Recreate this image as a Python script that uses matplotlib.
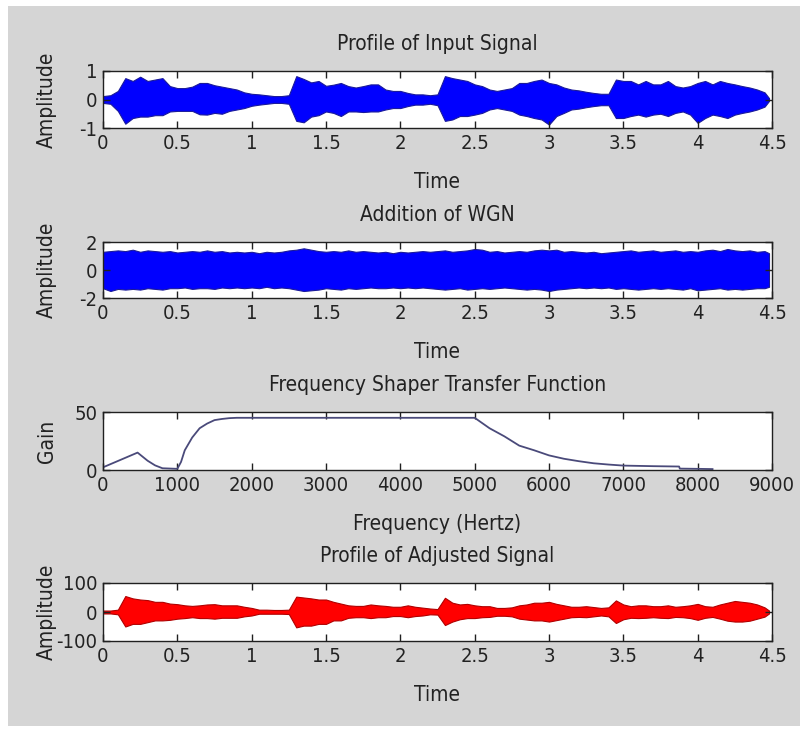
import numpy as np
import matplotlib
matplotlib.use("Agg")
import matplotlib.pyplot as plt
from matplotlib.patches import Rectangle
from matplotlib import font_manager as fm

plt.rcParams['axes.unicode_minus'] = False

# ---------------- data (envelopes, step 0.05 s) ----------------
time_step = 0.05
input_upper = [0.12, 0.15, 0.30, 0.75, 0.65, 0.80, 0.65, 0.70, 0.75, 0.47,
               0.40, 0.40, 0.45, 0.58, 0.58, 0.50, 0.45, 0.40, 0.35, 0.25,
               0.20, 0.18, 0.15, 0.12, 0.12, 0.15, 0.82, 0.72, 0.60, 0.65,
               0.48, 0.52, 0.58, 0.47, 0.42, 0.47, 0.53, 0.53, 0.35, 0.30,
               0.30, 0.23, 0.18, 0.18, 0.15, 0.18, 0.82, 0.75, 0.70, 0.65,
               0.53, 0.47, 0.35, 0.30, 0.35, 0.40, 0.58, 0.58, 0.65, 0.70,
               0.58, 0.53, 0.42, 0.35, 0.32, 0.27, 0.23, 0.20, 0.20, 0.70,
               0.65, 0.65, 0.53, 0.65, 0.53, 0.53, 0.65, 0.47, 0.42, 0.47,
               0.58, 0.65, 0.53, 0.65, 0.58, 0.53, 0.47, 0.42, 0.35, 0.25,
               0.05]
input_lower = [-0.12, -0.15, -0.40, -0.85, -0.65, -0.60, -0.60, -0.55, -0.55, -0.42,
               -0.40, -0.40, -0.40, -0.52, -0.53, -0.47, -0.50, -0.40, -0.35, -0.30,
               -0.22, -0.18, -0.15, -0.12, -0.12, -0.15, -0.75, -0.80, -0.60, -0.55,
               -0.42, -0.47, -0.58, -0.42, -0.42, -0.44, -0.42, -0.42, -0.35, -0.30,
               -0.30, -0.23, -0.18, -0.18, -0.15, -0.20, -0.75, -0.70, -0.58, -0.58,
               -0.53, -0.47, -0.35, -0.30, -0.35, -0.40, -0.53, -0.58, -0.65, -0.70,
               -0.88, -0.58, -0.47, -0.35, -0.32, -0.27, -0.23, -0.20, -0.20, -0.65,
               -0.65, -0.58, -0.53, -0.60, -0.53, -0.50, -0.58, -0.47, -0.42, -0.53,
               -0.82, -0.65, -0.53, -0.58, -0.65, -0.53, -0.47, -0.42, -0.35, -0.25,
               -0.05]

wgn_upper = [1.30, 1.35, 1.40, 1.35, 1.45, 1.30, 1.40, 1.35, 1.30, 1.35,
             1.25, 1.30, 1.35, 1.30, 1.40, 1.30, 1.35, 1.25, 1.30, 1.25,
             1.30, 1.20, 1.30, 1.25, 1.30, 1.40, 1.45, 1.55, 1.45, 1.35,
             1.30, 1.35, 1.30, 1.40, 1.30, 1.35, 1.30, 1.25, 1.30, 1.20,
             1.30, 1.25, 1.30, 1.35, 1.30, 1.35, 1.40, 1.30, 1.35, 1.40,
             1.50, 1.45, 1.30, 1.35, 1.25, 1.30, 1.35, 1.30, 1.40, 1.45,
             1.40, 1.45, 1.30, 1.35, 1.30, 1.25, 1.30, 1.20, 1.25, 1.30,
             1.35, 1.40, 1.30, 1.35, 1.40, 1.30, 1.35, 1.40, 1.30, 1.35,
             1.30, 1.40, 1.45, 1.35, 1.50, 1.40, 1.35, 1.40, 1.30, 1.35,
             1.20]
wgn_lower = [-1.30, -1.50, -1.35, -1.40, -1.35, -1.40, -1.30, -1.35, -1.40, -1.30,
             -1.30, -1.25, -1.35, -1.30, -1.30, -1.35, -1.25, -1.30, -1.25, -1.30,
             -1.25, -1.30, -1.20, -1.30, -1.25, -1.30, -1.40, -1.50, -1.45, -1.40,
             -1.30, -1.35, -1.40, -1.30, -1.35, -1.30, -1.25, -1.30, -1.30, -1.25,
             -1.30, -1.25, -1.30, -1.25, -1.30, -1.35, -1.40, -1.35, -1.30, -1.40,
             -1.35, -1.30, -1.35, -1.30, -1.25, -1.30, -1.35, -1.40, -1.35, -1.40,
             -1.50, -1.40, -1.35, -1.30, -1.25, -1.30, -1.25, -1.30, -1.25, -1.35,
             -1.30, -1.35, -1.40, -1.35, -1.30, -1.35, -1.30, -1.35, -1.40, -1.30,
             -1.45, -1.40, -1.35, -1.30, -1.40, -1.35, -1.40, -1.35, -1.30, -1.30,
             -1.20]

adjusted_upper = [5, 5, 8, 55, 47, 43, 41, 35, 35, 29,
                  27, 23, 21, 23, 26, 27, 23, 23, 23, 18,
                  14, 8, 8, 7, 7, 8, 53, 50, 47, 43,
                  43, 35, 29, 23, 21, 21, 26, 23, 21, 18,
                  18, 23, 18, 15, 12, 10, 49, 32, 26, 28,
                  23, 20, 20, 14, 14, 16, 23, 26, 32, 32,
                  35, 28, 23, 18, 18, 20, 17, 14, 16, 40,
                  26, 20, 23, 23, 20, 20, 23, 18, 20, 23,
                  28, 20, 18, 26, 32, 38, 35, 32, 26, 16,
                  5]
adjusted_lower = [-5, -5, -8, -50, -41, -41, -35, -29, -29, -27,
                  -23, -21, -18, -21, -21, -23, -20, -20, -20, -15,
                  -12, -6, -6, -6, -6, -7, -53, -47, -47, -41,
                  -41, -29, -29, -20, -18, -18, -21, -18, -18, -14,
                  -14, -18, -14, -12, -8, -9, -45, -33, -25, -21,
                  -21, -18, -17, -13, -13, -15, -23, -26, -29, -29,
                  -33, -28, -23, -18, -17, -18, -15, -12, -15, -38,
                  -25, -20, -21, -20, -18, -20, -21, -17, -18, -21,
                  -27, -20, -17, -23, -30, -33, -33, -30, -23, -16,
                  -5]

gain_freq = [0, 465, 600, 700, 800, 1000, 1050, 1100, 1200, 1300, 1400, 1500, 1600, 1700,
             1800, 5000, 5200, 5400, 5600, 5800, 6000, 6200, 6400, 6600, 6800, 7000,
             7400, 7750, 7760, 8000, 8200]
gain_vals = [2.3, 15, 8, 4, 1.5, 1, 7, 17, 28, 36, 40, 43, 44, 44.7,
             45, 45, 36, 29, 21, 17, 12.6, 9.7, 7.6, 5.8, 4.7, 3.8,
             3.3, 3.0, 1.2, 1.0, 0.8]

time_ticks = [0, 0.5, 1, 1.5, 2, 2.5, 3, 3.5, 4, 4.5]
time_ticklabels = ['0', '0.5', '1', '1.5', '2', '2.5', '3', '3.5', '4', '4.5']
freq_ticks = [0, 1000, 2000, 3000, 4000, 5000, 6000, 7000, 8000, 9000]

titles = ['Profile of Input Signal', 'Addition of WGN',
          'Frequency Shaper Transfer Function', 'Profile of Adjusted Signal']
xlabels = ['Time', 'Time', 'Frequency (Hertz)', 'Time']
ylabels = ['Amplitude', 'Amplitude', 'Gain', 'Amplitude']

# ---------------- font: prefer a narrow/condensed face (the reference text is condensed) ----------------
def pick_font():
    prefs = ['LiberationSansNarrow-Regular', 'DejaVuSansCondensed.ttf', 'Condensed-Regular',
             'SemiCondensed-Regular', 'Narrow']
    files = [f.fname for f in fm.fontManager.ttflist]
    for key in prefs:
        for fn in files:
            base = fn.split('/')[-1]
            if key in base and 'Bold' not in base and 'Italic' not in base and 'Oblique' not in base:
                return fm.FontProperties(fname=fn), True
    return fm.FontProperties(family=['Liberation Sans', 'DejaVu Sans']), False

FP, condensed = pick_font()
FS = 15.0 if condensed else 13.5
FS_TICK = 14.5 if condensed else 13.0

# ---------------- figure ----------------
W, H = 804, 735
fig = plt.figure(figsize=(W / 100, H / 100), dpi=100, facecolor='white')
fig.patches.append(Rectangle((8 / W, 1 - 726 / H), (800 - 8) / W, (726 - 6) / H,
                             transform=fig.transFigure, facecolor='#d5d5d5',
                             edgecolor='none', zorder=-10))

left_px, right_px = 103, 772
rows = [(71, 128), (242, 298), (412, 470), (583, 641)]
TXT = '#222222'

axes = []
for (top, bot) in rows:
    ax = fig.add_axes([left_px / W, 1 - bot / H, (right_px - left_px) / W, (bot - top) / H])
    ax.set_facecolor('white')
    axes.append(ax)

n = len(input_upper)
t = np.arange(n) * time_step
t[-1] = 4.48

def style(ax, title, xlabel, ylabel, hpx):
    for s in ax.spines.values():
        s.set_linewidth(1.0)
        s.set_color('#202020')
    ax.tick_params(direction='in', top=True, right=True, length=5, width=1.0,
                   colors='#202020', pad=4)
    for lab in ax.get_xticklabels() + ax.get_yticklabels():
        lab.set_fontproperties(FP)
        lab.set_fontsize(FS_TICK)
        lab.set_color(TXT)
    ax.text(0.5, 1 + 27 / hpx, title, transform=ax.transAxes, ha='center',
            va='center', fontproperties=FP, fontsize=FS, color=TXT)
    ax.set_xlabel(xlabel, fontproperties=FP, fontsize=FS, color=TXT)
    ax.xaxis.set_label_coords(0.5, -54 / hpx)
    ax.xaxis.label.set_va('center')
    ax.set_ylabel(ylabel, fontproperties=FP, fontsize=FS, color=TXT)
    ax.yaxis.set_label_coords(-(103 - 47) / (right_px - left_px), 0.5)
    ax.yaxis.label.set_va('center')

# 1 input signal
ax = axes[0]
ax.fill_between(t, input_lower, input_upper, color='#0000ff', edgecolor='#1a1a9a', linewidth=0.8)
ax.set_xlim(0, 4.5); ax.set_ylim(-1, 1)
ax.set_xticks(time_ticks); ax.set_xticklabels(time_ticklabels)
ax.set_yticks([-1, 0, 1])
style(ax, titles[0], xlabels[0], ylabels[0], rows[0][1] - rows[0][0])

# 2 WGN
ax = axes[1]
ax.fill_between(t, wgn_lower, wgn_upper, color='#0000ff', edgecolor='#1a1a9a', linewidth=0.8)
ax.set_xlim(0, 4.5); ax.set_ylim(-2, 2)
ax.set_xticks(time_ticks); ax.set_xticklabels(time_ticklabels)
ax.set_yticks([-2, 0, 2])
style(ax, titles[1], xlabels[1], ylabels[1], rows[1][1] - rows[1][0])

# 3 gain
ax = axes[2]
ax.plot(gain_freq, gain_vals, color='#4a4a7a', linewidth=1.3)
ax.set_xlim(0, 9000); ax.set_ylim(0, 50)
ax.set_xticks(freq_ticks); ax.set_xticklabels([str(f) for f in freq_ticks])
ax.set_yticks([0, 50])
style(ax, titles[2], xlabels[2], ylabels[2], rows[2][1] - rows[2][0])

# 4 adjusted signal
ax = axes[3]
ax.fill_between(t, adjusted_lower, adjusted_upper, color='#ff0000', edgecolor='#b00000', linewidth=0.8)
ax.set_xlim(0, 4.5); ax.set_ylim(-100, 100)
ax.set_xticks(time_ticks); ax.set_xticklabels(time_ticklabels)
ax.set_yticks([-100, 0, 100])
style(ax, titles[3], xlabels[3], ylabels[3], rows[3][1] - rows[3][0])

fig.savefig('out.png', dpi=100, facecolor='white')
